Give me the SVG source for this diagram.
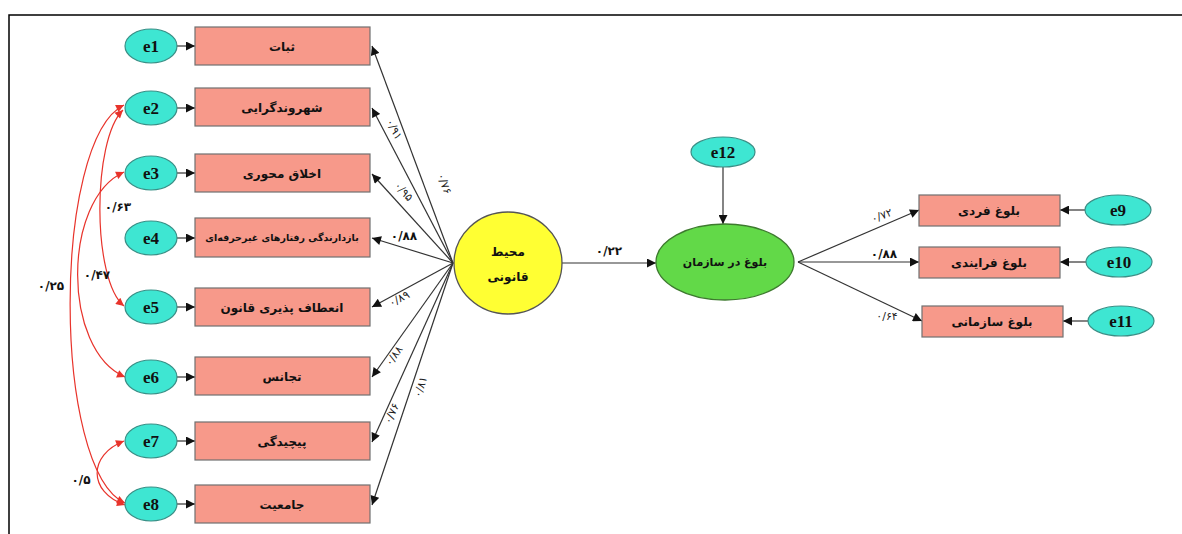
<svg xmlns="http://www.w3.org/2000/svg" width="1182" height="534" viewBox="0 0 1182 534">
<style>
.bg{fill:#ffffff}
.frame{stroke:#000;stroke-width:1.5;fill:none}
.err{fill:#3ee6d2;stroke:#3a8f86;stroke-width:1.2}
.box{fill:#f7998a;stroke:#707070;stroke-width:1.2}
.etxt{font-family:"Liberation Serif",serif;font-weight:bold;font-size:17px;fill:#111;text-anchor:middle}
.ftxt{font-family:"DejaVu Sans","Noto Sans",sans-serif;font-weight:bold;font-size:12px;fill:#111;text-anchor:middle}
.ln{stroke:#333;stroke-width:1.2;fill:none}
.cor{stroke:#e8332b;stroke-width:1.2;fill:none}
.num{font-family:"DejaVu Sans",sans-serif;font-size:11px;fill:#222;text-anchor:middle;direction:ltr}
.numb{font-family:"DejaVu Sans",sans-serif;font-size:12px;font-weight:bold;fill:#111;text-anchor:middle;direction:ltr}
</style>
<defs>
<marker id="ah" viewBox="0 0 10 10" refX="10" refY="5" markerWidth="10" markerHeight="9" markerUnits="userSpaceOnUse" orient="auto"><path d="M0,0 L10,5 L0,10 z" fill="#111"/></marker>
<marker id="rh" viewBox="0 0 10 10" refX="10" refY="5" markerWidth="10" markerHeight="8" markerUnits="userSpaceOnUse" orient="auto-start-reverse"><path d="M0,0 L10,5 L0,10 z" fill="#e8332b"/></marker>
</defs>
<rect class="bg" x="0" y="0" width="1182" height="534"/>
<path class="frame" d="M9,534 L9,15 L1182,15"/>

<g id="connectors">
  <line class="ln" x1="177" y1="46" x2="195" y2="46" marker-end="url(#ah)"/>
  <line class="ln" x1="177" y1="108" x2="195" y2="108" marker-end="url(#ah)"/>
  <line class="ln" x1="177" y1="173" x2="195" y2="173" marker-end="url(#ah)"/>
  <line class="ln" x1="177" y1="238" x2="195" y2="238" marker-end="url(#ah)"/>
  <line class="ln" x1="177" y1="307" x2="195" y2="307" marker-end="url(#ah)"/>
  <line class="ln" x1="177" y1="377" x2="195" y2="377" marker-end="url(#ah)"/>
  <line class="ln" x1="177" y1="441" x2="195" y2="441" marker-end="url(#ah)"/>
  <line class="ln" x1="177" y1="504" x2="195" y2="504" marker-end="url(#ah)"/>
  <line class="ln" x1="453" y1="263" x2="372" y2="46" marker-end="url(#ah)"/>
  <line class="ln" x1="453" y1="263" x2="372" y2="108" marker-end="url(#ah)"/>
  <line class="ln" x1="453" y1="263" x2="372" y2="174" marker-end="url(#ah)"/>
  <line class="ln" x1="453" y1="263" x2="372" y2="238" marker-end="url(#ah)"/>
  <line class="ln" x1="453" y1="263" x2="372" y2="307" marker-end="url(#ah)"/>
  <line class="ln" x1="453" y1="263" x2="372" y2="377" marker-end="url(#ah)"/>
  <line class="ln" x1="453" y1="263" x2="372" y2="442" marker-end="url(#ah)"/>
  <line class="ln" x1="453" y1="263" x2="372" y2="505" marker-end="url(#ah)"/>
  <line class="ln" x1="562" y1="263" x2="656" y2="263" marker-end="url(#ah)"/>
  <line class="ln" x1="723" y1="167" x2="723" y2="224" marker-end="url(#ah)"/>
  <line class="ln" x1="798" y1="262" x2="919" y2="210" marker-end="url(#ah)"/>
  <line class="ln" x1="798" y1="262" x2="919" y2="262" marker-end="url(#ah)"/>
  <line class="ln" x1="798" y1="262" x2="922" y2="321" marker-end="url(#ah)"/>
  <line class="ln" x1="1085" y1="210" x2="1060" y2="210" marker-end="url(#ah)"/>
  <line class="ln" x1="1086" y1="262" x2="1060" y2="262" marker-end="url(#ah)"/>
  <line class="ln" x1="1088" y1="321" x2="1063" y2="321" marker-end="url(#ah)"/>
  <path class="cor" d="M124,105 C52,140 52,470 125,503" marker-start="url(#rh)" marker-end="url(#rh)"/>
  <path class="cor" d="M123,110 C92,140 92,280 124,306" marker-start="url(#rh)" marker-end="url(#rh)"/>
  <path class="cor" d="M124,172 C62,200 62,350 125,377" marker-start="url(#rh)" marker-end="url(#rh)"/>
  <path class="cor" d="M124,441 C88,455 88,492 125,505" marker-start="url(#rh)" marker-end="url(#rh)"/>
  <text class="num" transform="translate(441,185) rotate(69.5)">۰/۷۶</text>
  <text class="num" transform="translate(391,131) rotate(62)">۰/۹۱</text>
  <text class="num" transform="translate(401,194) rotate(47.7)">۰/۹۵</text>
  <text class="numb" x="404" y="240">۰/۸۸</text>
  <text class="num" transform="translate(401,302) rotate(-28.5)">۰/۸۹</text>
  <text class="num" transform="translate(397,358) rotate(-55)">۰/۸۸</text>
  <text class="num" transform="translate(395,415) rotate(-65.8)">۰/۷۶</text>
  <text class="num" transform="translate(424,388) rotate(-71.5)">۰/۸۱</text>
  <text class="numb" x="609" y="255">۰/۲۲</text>
  <text class="num" transform="translate(883,219) rotate(-20)">۰/۷۲</text>
  <text class="numb" x="884" y="258">۰/۸۸</text>
  <text class="num" x="887" y="320">۰/۶۴</text>
  <text class="numb" x="118" y="211">۰/۶۳</text>
  <text class="numb" x="97" y="279">۰/۴۷</text>
  <text class="numb" x="51" y="290">۰/۲۵</text>
  <text class="numb" x="81" y="484">۰/۵</text>
</g>

<g id="e1"><ellipse class="err" cx="151" cy="46" rx="26" ry="17"/><text class="etxt" x="151" y="52">e1</text></g>
<g id="e2"><ellipse class="err" cx="151" cy="108" rx="26" ry="17"/><text class="etxt" x="151" y="114">e2</text></g>
<g id="e3"><ellipse class="err" cx="151" cy="173" rx="26" ry="17"/><text class="etxt" x="151" y="179">e3</text></g>
<g id="e4"><ellipse class="err" cx="151" cy="238" rx="26" ry="17"/><text class="etxt" x="151" y="244">e4</text></g>
<g id="e5"><ellipse class="err" cx="151" cy="307" rx="26" ry="17"/><text class="etxt" x="151" y="313">e5</text></g>
<g id="e6"><ellipse class="err" cx="151" cy="377" rx="26" ry="17"/><text class="etxt" x="151" y="383">e6</text></g>
<g id="e7"><ellipse class="err" cx="151" cy="441" rx="26" ry="17"/><text class="etxt" x="151" y="447">e7</text></g>
<g id="e8"><ellipse class="err" cx="151" cy="504" rx="26" ry="17"/><text class="etxt" x="151" y="510">e8</text></g>

<g id="v1"><rect class="box" x="195" y="27" width="175" height="38"/><text class="ftxt" x="282" y="51">ثبات</text></g>
<g id="v2"><rect class="box" x="195" y="88" width="175" height="38"/><text class="ftxt" x="282" y="112">شهروندگرایی</text></g>
<g id="v3"><rect class="box" x="195" y="154" width="175" height="38"/><text class="ftxt" x="282" y="178">اخلاق محوری</text></g>
<g id="v4"><rect class="box" x="195" y="218" width="175" height="39"/><text class="ftxt" x="282" y="241" style="font-size:9.5px">بازدارندگی رفتارهای غیرحرفه‌ای</text></g>
<g id="v5"><rect class="box" x="195" y="288" width="175" height="38"/><text class="ftxt" x="282" y="312">انعطاف پذیری قانون</text></g>
<g id="v6"><rect class="box" x="195" y="357" width="175" height="38"/><text class="ftxt" x="282" y="381">تجانس</text></g>
<g id="v7"><rect class="box" x="195" y="422" width="175" height="38"/><text class="ftxt" x="282" y="446">پیچیدگی</text></g>
<g id="v8"><rect class="box" x="195" y="485" width="175" height="38"/><text class="ftxt" x="282" y="509">جامعیت</text></g>

<g id="legal-env"><ellipse cx="508" cy="263" rx="54" ry="51" fill="#ffff33" stroke="#555" stroke-width="1.3"/><text class="ftxt" x="508" y="256">محیط</text><text class="ftxt" x="508" y="281">قانونی</text></g>
<g id="maturity"><ellipse cx="725" cy="262" rx="69" ry="38" fill="#62d948" stroke="#3d7a2e" stroke-width="1.3"/><text class="ftxt" x="725" y="266" style="font-size:11px">بلوغ در سازمان</text></g>
<g id="e12"><ellipse class="err" cx="723" cy="152" rx="32" ry="15"/><text class="etxt" x="723" y="158">e12</text></g>

<g id="v9"><rect class="box" x="919" y="195" width="141" height="31"/><text class="ftxt" x="989" y="215">بلوغ فردی</text></g>
<g id="v10"><rect class="box" x="919" y="247" width="141" height="31"/><text class="ftxt" x="989" y="267">بلوغ فرایندی</text></g>
<g id="v11"><rect class="box" x="922" y="306" width="141" height="31"/><text class="ftxt" x="992" y="326">بلوغ سازمانی</text></g>

<g id="e9"><ellipse class="err" cx="1118" cy="210" rx="33" ry="15"/><text class="etxt" x="1118" y="216">e9</text></g>
<g id="e10"><ellipse class="err" cx="1119" cy="262" rx="33" ry="15"/><text class="etxt" x="1119" y="268">e10</text></g>
<g id="e11"><ellipse class="err" cx="1121" cy="321" rx="33" ry="15"/><text class="etxt" x="1121" y="327">e11</text></g>
</svg>
